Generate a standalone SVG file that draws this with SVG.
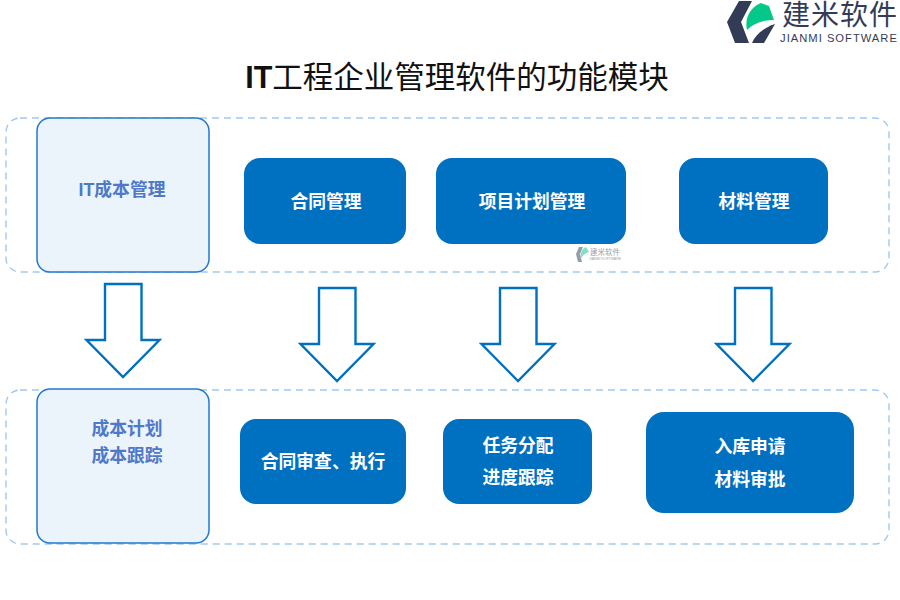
<svg xmlns="http://www.w3.org/2000/svg" width="900" height="600" viewBox="0 0 900 600">
<style>
text{font-family:"Liberation Sans","Noto Sans CJK SC",sans-serif;text-anchor:middle}
.band{fill:#fff;stroke:#9fc9f0;stroke-width:1.4;stroke-dasharray:7 5}
.side{fill:#ebf3fb;stroke:#2279cf;stroke-width:1.500}
.box{fill:#0070c0}
.w{fill:#fff;font-size:17.800px;font-weight:700}
.b{fill:#4f78c8;font-size:17.800px;font-weight:700}
.arr{fill:#fff;stroke:#0070c0;stroke-width:2.400;stroke-linejoin:miter}
</style>
<rect width="900" height="600" fill="#fff"/>
<g id="logo">
<path d="M739 1H752L741 22L749 43H735L727 22Z" fill="#333c57"/>
<path d="M747 30C744 17 752 6 761 3L769 6L774 20C762 20 753 24 747 30Z" fill="#04c78a"/>
<path d="M752 43C755 35 763 28 775 24L764 43Z" fill="#333c57"/>
<text x="840" y="25" style="font-size:28px;letter-spacing:1px" fill="#333c57">建米软件</text>
<text x="839" y="42" style="font-size:11.200px;letter-spacing:1px" fill="#333c57">JIANMI SOFTWARE</text>
</g>
<text id="title" x="457" y="88" style="font-size:30.500px;font-weight:700" fill="#111">IT<tspan font-weight="400">工程企业管理软件的功能模块</tspan></text>
<g id="band-top"><rect class="band" x="6" y="118" width="883" height="154" rx="14"/></g>
<g id="band-bottom"><rect class="band" x="6" y="390" width="883" height="154" rx="14"/></g>
<g id="cost-mgmt"><rect class="side" x="37" y="118" width="172" height="154" rx="13"/><text class="b" x="122" y="195.500">IT成本管理</text></g>
<g id="contract"><rect class="box" x="244" y="158" width="162" height="86" rx="16"/><text class="w" x="326" y="207.500">合同管理</text></g>
<g id="project"><rect class="box" x="436" y="158" width="190" height="86" rx="16"/><text class="w" x="532" y="207.500">项目计划管理</text></g>
<g id="material"><rect class="box" x="679" y="158" width="149" height="86" rx="16"/><text class="w" x="754" y="207.500">材料管理</text></g>
<g id="watermark" opacity=".5">
<path d="M579 247H583L580 254L582 262H578L576 254Z" fill="#333c57"/>
<path d="M581 258C580 252 583 248 586 247L589 252C586 253 583 255 581 258Z" fill="#04c78a"/>
<text x="605" y="255" style="font-size:7.500px" fill="#333c57">建米软件</text>
<text x="605" y="260" style="font-size:3.500px" fill="#333c57">JIANMI SOFTWARE</text>
</g>
<g id="connectors">
<path class="arr" d="M105 284H141.500V340H159.500L123 377L86.500 340H105Z"/>
<path class="arr" d="M319 288H355.500V344H373.500L337 381L300.500 344H319Z"/>
<path class="arr" d="M500 288H536.500V344H554.500L518 381L481.500 344H500Z"/>
<path class="arr" d="M735 288H771.500V344H789.500L753 381L716.500 344H735Z"/>
</g>
<g id="cost-plan"><rect class="side" x="37" y="389" width="172" height="154" rx="13"/><text class="b" x="127" y="434.500">成本计划</text><text class="b" x="127" y="462">成本跟踪</text></g>
<g id="contract-review"><rect class="box" x="240" y="419" width="166" height="85" rx="16"/><text class="w" x="323" y="467.500">合同审查、执行</text></g>
<g id="task"><rect class="box" x="443" y="419" width="149" height="85" rx="16"/><text class="w" x="518" y="451.500">任务分配</text><text class="w" x="518" y="483.500">进度跟踪</text></g>
<g id="warehouse"><rect class="box" x="646" y="412" width="208" height="101" rx="18"/><text class="w" x="750" y="452.500">入库申请</text><text class="w" x="750" y="485.500">材料审批</text></g>
</svg>
